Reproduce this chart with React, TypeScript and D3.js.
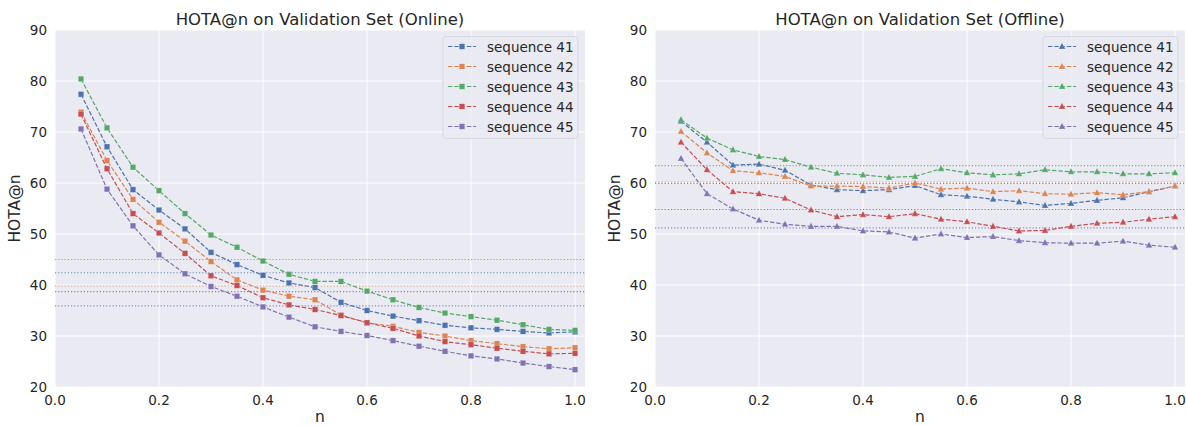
import * as d3 from 'd3';

const nVals = [0.05, 0.1, 0.15, 0.2, 0.25, 0.3, 0.35, 0.4, 0.45, 0.5, 0.55, 0.6, 0.65, 0.7, 0.75, 0.8, 0.85, 0.9, 0.95, 1.0];
const seqNames = ['sequence 41', 'sequence 42', 'sequence 43', 'sequence 44', 'sequence 45'];
const colors = ['#4C72B0', '#DD8452', '#55A868', '#C44E52', '#8172B3'];

// online (left panel)
const online41 = [77.4, 67.1, 58.7, 54.7, 51.0, 46.4, 44.0, 41.9, 40.4, 39.5, 36.6, 35.0, 33.9, 33.0, 32.1, 31.6, 31.3, 30.9, 30.6, 30.8];
const online42 = [73.9, 64.4, 56.8, 52.3, 48.6, 44.6, 41.0, 39.0, 37.8, 37.1, 34.1, 32.6, 31.9, 30.7, 30.0, 29.1, 28.5, 27.9, 27.5, 27.7];
const online43 = [80.4, 70.8, 63.1, 58.5, 54.0, 49.8, 47.4, 44.7, 42.1, 40.7, 40.7, 38.8, 37.1, 35.6, 34.5, 33.8, 33.1, 32.2, 31.3, 31.1];
const online44 = [73.5, 62.8, 54.0, 50.2, 46.2, 41.8, 39.9, 37.5, 36.1, 35.2, 34.0, 32.6, 31.5, 30.0, 28.9, 28.3, 27.6, 27.0, 26.5, 26.6];
const online45 = [70.6, 58.8, 51.6, 45.9, 42.2, 39.7, 37.8, 35.7, 33.7, 31.8, 30.9, 30.1, 29.1, 28.0, 27.0, 26.1, 25.5, 24.7, 24.0, 23.4];
const onlineRef = [42.4, 39.8, 45.0, 38.7, 35.9];

// offline (right panel)
const offline41 = [72.1, 68.0, 63.5, 63.7, 62.5, 59.6, 58.7, 58.5, 58.7, 59.5, 57.7, 57.4, 56.8, 56.3, 55.6, 56.0, 56.6, 57.1, 58.3, 59.4];
const offline42 = [70.1, 65.9, 62.4, 62.0, 61.3, 59.4, 59.4, 59.3, 59.0, 60.0, 58.8, 59.0, 58.3, 58.5, 57.9, 57.8, 58.1, 57.7, 58.3, 59.4];
const offline43 = [72.4, 68.8, 66.5, 65.2, 64.6, 63.1, 61.9, 61.6, 61.1, 61.3, 62.8, 62.0, 61.6, 61.8, 62.6, 62.2, 62.2, 61.8, 61.8, 62.0];
const offline44 = [68.0, 62.6, 58.3, 57.9, 57.0, 54.7, 53.4, 53.8, 53.4, 54.0, 52.9, 52.4, 51.5, 50.6, 50.7, 51.5, 52.1, 52.3, 52.9, 53.4];
const offline45 = [64.8, 57.9, 54.9, 52.7, 51.9, 51.5, 51.5, 50.6, 50.4, 49.2, 50.0, 49.3, 49.5, 48.7, 48.3, 48.2, 48.2, 48.6, 47.8, 47.4];
const offlineRef = [59.9, 60.2, 63.4, 54.8, 51.2];

const xTicks = [0, 0.2, 0.4, 0.6, 0.8, 1.0];
const yTicks = [20, 30, 40, 50, 60, 70, 80, 90];

const W = 1186;
const H = 426;
const panelW = 530;
const top = 30;
const bottom = 387;
const textColor = '#262626';
const font = 'DejaVu Sans, sans-serif';

function Marker({ shape, x, y, color }) {
  if (shape === 'square') {
    return <rect x={x - 2.8} y={y - 2.8} width={5.6} height={5.6} fill={color} stroke="#ffffff" strokeOpacity={0.5} strokeWidth={0.5} />;
  }
  const s = 3.4;
  const pts = `${x},${y - s * 1.1} ${x - s},${y + s * 0.75} ${x + s},${y + s * 0.75}`;
  return <polygon points={pts} fill={color} stroke="#ffffff" strokeOpacity={0.5} strokeWidth={0.5} />;
}

function Panel({ left, title, series, refs, shape }) {
  const x = d3.scaleLinear().domain([0, 1.0192]).range([left, left + panelW]);
  const y = d3.scaleLinear().domain([20, 90]).range([bottom, top]);
  const line = d3.line<number>().x((_, i) => x(nVals[i])).y(d => y(d));
  const cx = left + panelW / 2;
  const lgX = left + panelW - 142;
  const lgY = 36.5;

  return (
    <g fontFamily={font} fill={textColor}>
      <rect x={left} y={top} width={panelW} height={bottom - top} fill="#EAEAF2" />
      {xTicks.map(t => (
        <line key={'gx' + t} x1={x(t)} x2={x(t)} y1={top} y2={bottom} stroke="#ffffff" strokeWidth={1} />
      ))}
      {yTicks.map(t => (
        <line key={'gy' + t} x1={left} x2={left + panelW} y1={y(t)} y2={y(t)} stroke="#ffffff" strokeWidth={1} />
      ))}
      {xTicks.map(t => (
        <text key={'tx' + t} x={x(t)} y={405} textAnchor="middle" fontSize={13.5}>{d3.format('.1f')(t)}</text>
      ))}
      {yTicks.map(t => (
        <text key={'ty' + t} x={left - 8} y={y(t) + 5} textAnchor="end" fontSize={13.5}>{t}</text>
      ))}
      <text x={cx} y={25} textAnchor="middle" fontSize={16.5}>{title}</text>
      <text x={cx} y={422} textAnchor="middle" fontSize={15.5}>n</text>
      <text transform={`translate(${left - 35},${(top + bottom) / 2}) rotate(-90)`} textAnchor="middle" fontSize={15.5}>HOTA@n</text>

      {refs.map((r, i) => (
        <line key={'ref' + i} x1={left} x2={left + panelW} y1={y(r)} y2={y(r)}
          stroke={colors[i]} strokeWidth={1.2} strokeDasharray="1.2,2" opacity={0.8} />
      ))}

      {series.map((s, i) => (
        <g key={'s' + i}>
          <path d={line(s) || ''} fill="none" stroke={colors[i]} strokeWidth={1.2} strokeDasharray="4.4,1.9" />
          {s.map((v, j) => (
            <Marker key={j} shape={shape} x={x(nVals[j])} y={y(v)} color={colors[i]} />
          ))}
        </g>
      ))}

      <rect x={lgX} y={lgY} width={135} height={102} rx={3} fill="#EAEAF2" fillOpacity={0.8} stroke="#d8d8e0" strokeWidth={1} />
      {seqNames.map((name, i) => {
        const ry = lgY + 10 + i * 20;
        return (
          <g key={'lg' + i}>
            <line x1={lgX + 5} x2={lgX + 33} y1={ry} y2={ry} stroke={colors[i]} strokeWidth={1.2} strokeDasharray="4.4,1.9" />
            <Marker shape={shape} x={lgX + 19} y={ry} color={colors[i]} />
            <text x={lgX + 44} y={ry + 5} fontSize={13.5}>{name}</text>
          </g>
        );
      })}
    </g>
  );
}

export default function App() {
  const onlineSeries = [online41, online42, online43, online44, online45];
  const offlineSeries = [offline41, offline42, offline43, offline44, offline45];
  return (
    <div style={{ position: 'absolute', left: 0, top: 0 }}>
      <svg width={W} height={H} style={{ display: 'block', background: '#ffffff' }}>
        <Panel left={55} title="HOTA@n on Validation Set (Online)" series={onlineSeries} refs={onlineRef} shape="square" />
        <Panel left={655} title="HOTA@n on Validation Set (Offline)" series={offlineSeries} refs={offlineRef} shape="triangle" />
      </svg>
    </div>
  );
}
